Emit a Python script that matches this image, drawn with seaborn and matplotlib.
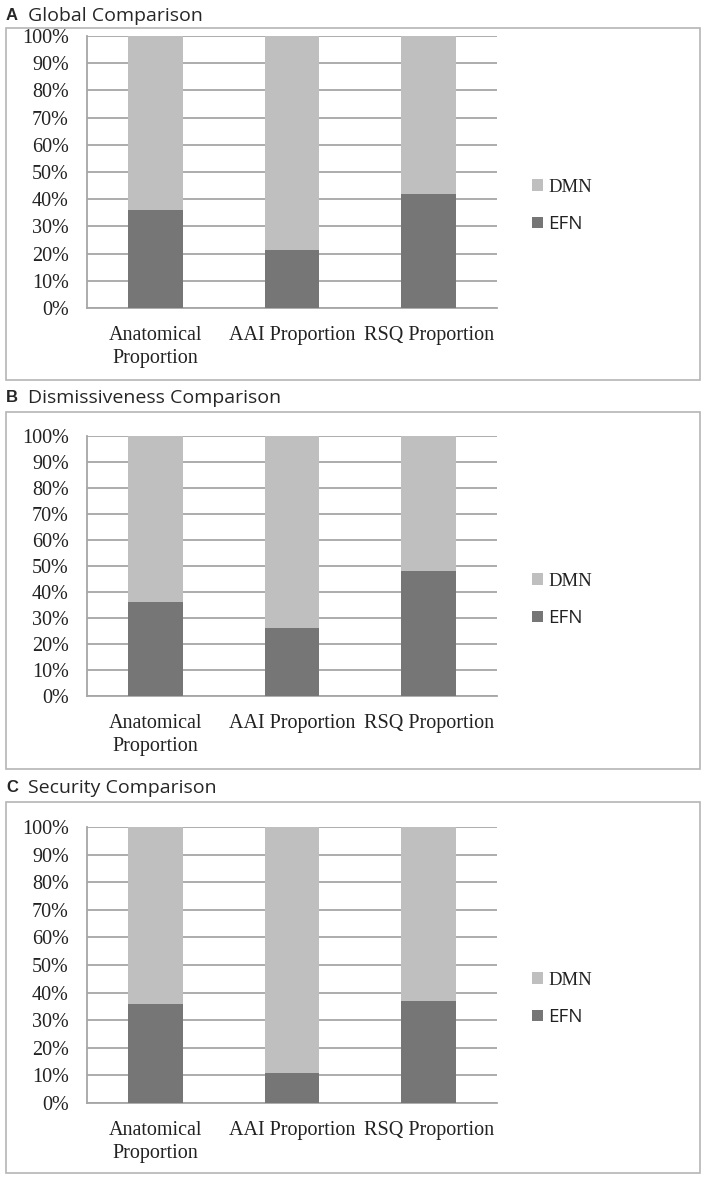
import matplotlib
matplotlib.use("Agg")
import matplotlib.pyplot as plt
import seaborn as sns
import pandas as pd
import numpy as np
from matplotlib.patches import Rectangle
from matplotlib.ticker import FixedLocator, PercentFormatter

# ---- data ----
categories = ["Anatomical\nProportion", "AAI Proportion", "RSQ Proportion"]
panel_letters = ["A", "B", "C"]
panel_titles = ["Global Comparison", "Dismissiveness Comparison", "Security Comparison"]
efn_global = [36, 21.5, 42]
dmn_global = [64, 78.5, 58]
efn_dismiss = [36, 26, 48]
dmn_dismiss = [64, 74, 52]
efn_security = [36, 11, 37]
dmn_security = [64, 89, 63]
y_ticks = [0, 10, 20, 30, 40, 50, 60, 70, 80, 90, 100]

panels = [(efn_global, dmn_global), (efn_dismiss, dmn_dismiss), (efn_security, dmn_security)]

DMN_COLOR = "#bfbfbf"
EFN_COLOR = "#767676"
GRID_COLOR = "#a6a6a6"
BOX_COLOR = "#b5b5b5"

sns.set_style("white")
W, H = 708, 1182
fig = plt.figure(figsize=(W / 100, H / 100), dpi=100)

# pixel layout: (axes top, axes bottom, box top, box bottom, title y)
layout = [
    (36, 308, 28, 380, 16),
    (436, 696, 412, 769, 398),
    (827, 1103, 802, 1173, 788),
]
ax_left, ax_right = 87, 497
box_left, box_right = 6, 700

serif = ["Liberation Serif", "DejaVu Serif"]
sans = ["Open Sans", "DejaVu Sans"]

for i, ((efn, dmn), (top, bot, btop, bbot, ty)) in enumerate(zip(panels, layout)):
    # frame box
    fig.patches.append(Rectangle((box_left / W, 1 - bbot / H), (box_right - box_left) / W,
                                 (bbot - btop) / H, transform=fig.transFigure,
                                 fill=False, edgecolor=BOX_COLOR, linewidth=1.2, zorder=0))
    fig.text(6 / W, 1 - ty / H, panel_letters[i], fontsize=12, fontweight="bold",
             family=["Liberation Sans", "DejaVu Sans"], va="center", ha="left")
    fig.text(28 / W, 1 - ty / H, panel_titles[i], fontsize=14, family=sans,
             va="center", ha="left")

    ax = fig.add_axes([ax_left / W, 1 - bot / H, (ax_right - ax_left) / W, (bot - top) / H])
    df = pd.DataFrame({"cat": categories, "EFN": efn, "DMN": dmn})
    df["total"] = df["EFN"] + df["DMN"]
    sns.barplot(data=df, x="cat", y="total", color=DMN_COLOR, width=0.4, ax=ax,
                saturation=1, label="DMN", zorder=3, linewidth=0)
    sns.barplot(data=df, x="cat", y="EFN", color=EFN_COLOR, width=0.4, ax=ax,
                saturation=1, label="EFN", zorder=4, linewidth=0)

    ax.set_xlim(-0.5, 2.5)
    ax.set_ylim(0, 100)
    ax.set_yticks(y_ticks)
    ax.yaxis.set_major_formatter(PercentFormatter(decimals=0))
    ax.set_xlabel("")
    ax.set_ylabel("")
    ax.grid(axis="y", color=GRID_COLOR, linewidth=1.3, zorder=1)
    ax.set_axisbelow(True)
    for s in ["top", "right"]:
        ax.spines[s].set_visible(False)
    for s in ["left", "bottom"]:
        ax.spines[s].set_color(GRID_COLOR)
        ax.spines[s].set_linewidth(1.3)
    ax.tick_params(axis="y", length=4, width=1.2, color=GRID_COLOR, pad=9, labelsize=14.5)
    ax.tick_params(axis="x", which="major", length=0, pad=13, labelsize=14.5)
    ax.xaxis.set_minor_locator(FixedLocator([-0.5, 0.5, 1.5, 2.5]))
    ax.tick_params(axis="x", which="minor", length=7, width=1.2, color=GRID_COLOR)
    for lab in ax.get_xticklabels() + ax.get_yticklabels():
        lab.set_family(serif)
        lab.set_color("#222222")
    for lab in ax.get_xticklabels():
        lab.set_linespacing(1.3)
        lab.set_va("top")

    handles, labels = ax.get_legend_handles_labels()
    leg = ax.legend(handles, labels, loc="center left",
                    bbox_to_anchor=(1.045, 0.5 - 34 / (bot - top)),
                    frameon=False, fontsize=13.5, handlelength=0.55, handleheight=0.55,
                    handletextpad=0.3, labelspacing=1.05)
    texts = leg.get_texts()
    texts[0].set_family(serif)
    texts[1].set_family(sans)
    for t in texts:
        t.set_color("#222222")

fig.savefig("out.png", dpi=100)
